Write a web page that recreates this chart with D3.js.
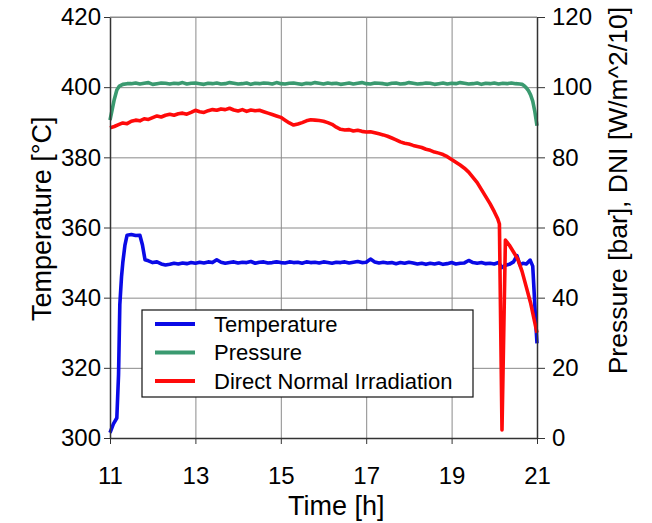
<!DOCTYPE html>
<html>
<head>
<meta charset="utf-8">
<script src="https://cdn.jsdelivr.net/npm/d3@7"></script>
<style>
  body { margin: 0; background: #fff; }
  svg { font-family: "Liberation Sans", Arial, sans-serif; }
  .tick text { fill: #000; }
</style>
</head>
<body>
<svg id="chart" width="652" height="523"></svg>
<script>
// ---- data ----
var timeTicks = [11, 13, 15, 17, 19, 21];
var tempTicks = [300, 320, 340, 360, 380, 400, 420];
var rightTicks = [0, 20, 40, 60, 80, 100, 120];

var tempTime = [11.0, 11.08, 11.16, 11.2, 11.23, 11.27, 11.3, 11.35, 11.4, 11.5, 11.6, 11.7, 11.76, 11.82, 11.9,
  12.0, 12.1, 12.2, 12.3, 12.4, 12.5, 12.6, 12.7, 12.8, 12.9,
  13.0, 13.1, 13.2, 13.3, 13.4, 13.5, 13.6, 13.7, 13.8, 13.9,
  14.0, 14.1, 14.2, 14.3, 14.4, 14.5, 14.6, 14.7, 14.8, 14.9,
  15.0, 15.1, 15.2, 15.3, 15.4, 15.5, 15.6, 15.7, 15.8, 15.9,
  16.0, 16.1, 16.2, 16.3, 16.4, 16.5, 16.6, 16.7, 16.8, 16.9,
  17.0, 17.1, 17.2, 17.3, 17.4, 17.5, 17.6, 17.7, 17.8, 17.9,
  18.0, 18.1, 18.2, 18.3, 18.4, 18.5, 18.6, 18.7, 18.8, 18.9,
  19.0, 19.1, 19.2, 19.3, 19.4, 19.5, 19.6, 19.7, 19.8, 19.9,
  20.0, 20.1, 20.18, 20.25, 20.35, 20.45, 20.53, 20.6, 20.67, 20.75, 20.84, 20.9, 20.94, 20.97, 21.0];
var tempValue = [301.5, 304, 305.7, 318, 338, 346, 350, 355, 357.8, 358, 357.7, 357.8, 355, 350.8, 350.5,
  350.0, 350.2, 349.6, 349.3, 349.5, 349.8, 349.6, 349.9, 349.7, 350.0,
  349.8, 350.1, 349.9, 350.2, 350.0, 350.8, 350.1, 349.8, 350.0, 350.2,
  349.9, 350.1, 350.0, 350.3, 349.8, 350.1, 350.2, 349.9, 350.0, 350.2,
  350.0, 349.9, 350.2, 350.0, 350.1, 349.8, 350.2, 350.0, 350.1, 349.9,
  350.2, 350.0, 349.8, 350.1, 350.0, 350.2, 349.9, 350.1, 350.3, 350.0,
  350.1, 351.0, 350.2, 349.9, 350.1, 349.9, 350.0, 349.7, 350.0, 349.8,
  350.1, 349.9, 349.6, 349.8, 349.5, 349.8, 349.6, 349.9, 349.5, 349.7,
  350.0, 349.6, 349.8, 349.9, 350.6, 350.0, 349.8, 350.0, 349.7, 349.8,
  349.6, 350.0, 348.6, 349.2, 349.5, 350.2, 352.0, 349.3, 349.8, 349.6, 350.7, 349.0, 340, 333, 327];

var presTime = [11.0, 11.05, 11.1, 11.16, 11.22, 11.3, 11.4,
  11.5, 11.6, 11.7, 11.8, 11.9,
  12.0, 12.1, 12.2, 12.3, 12.4, 12.5, 12.6, 12.7, 12.8, 12.9,
  13.0, 13.1, 13.2, 13.3, 13.4, 13.5, 13.6, 13.7, 13.8, 13.9,
  14.0, 14.1, 14.2, 14.3, 14.4, 14.5, 14.6, 14.7, 14.8, 14.9,
  15.0, 15.1, 15.2, 15.3, 15.4, 15.5, 15.6, 15.7, 15.8, 15.9,
  16.0, 16.1, 16.2, 16.3, 16.4, 16.5, 16.6, 16.7, 16.8, 16.9,
  17.0, 17.1, 17.2, 17.3, 17.4, 17.5, 17.6, 17.7, 17.8, 17.9,
  18.0, 18.1, 18.2, 18.3, 18.4, 18.5, 18.6, 18.7, 18.8, 18.9,
  19.0, 19.1, 19.2, 19.3, 19.4, 19.5, 19.6, 19.7, 19.8, 19.9,
  20.0, 20.1, 20.2, 20.3, 20.4, 20.5, 20.6,
  20.65, 20.7, 20.75, 20.8, 20.85, 20.9, 20.95, 21.0];
var presValue = [90.6, 93.5, 96.5, 99.2, 100.3, 100.8, 101.0,
  101.0, 101.2, 100.9, 101.1, 101.3,
  100.8, 101.0, 101.2, 101.1, 100.9, 101.1, 101.0, 101.3, 100.9, 101.1,
  101.2, 101.0, 100.8, 101.1, 101.0, 101.2, 100.9, 101.0, 101.3, 101.1,
  100.9, 101.0, 101.2, 100.8, 101.1, 101.0, 101.2, 101.1, 100.9, 101.3,
  101.0, 100.9, 101.1, 101.2, 101.0, 100.8, 101.1, 101.0, 101.3, 101.1,
  100.9, 101.2, 101.0, 101.1, 100.8, 101.0, 101.2, 100.9, 101.1, 101.3,
  101.0, 100.9, 101.2, 101.1, 101.0, 100.8, 101.1, 101.2, 100.9, 101.0,
  101.3, 101.1, 100.9, 101.0, 101.2, 101.1, 100.8, 101.0, 101.2, 100.9,
  101.1, 101.0, 101.3, 101.1, 100.9, 101.0, 101.2, 100.8, 101.1, 101.0,
  101.2, 100.9, 101.1, 101.0, 101.2, 101.0, 100.9,
  100.8, 100.4, 99.8, 99.0, 97.8, 96.0, 93.0, 89.0];

var dniTime = [11.0, 11.1, 11.2, 11.3, 11.4, 11.5, 11.6, 11.7, 11.8, 11.9,
  12.0, 12.1, 12.2, 12.3, 12.4, 12.5, 12.6, 12.7, 12.8, 12.9,
  13.0, 13.1, 13.2, 13.3, 13.4, 13.5, 13.6, 13.7, 13.8, 13.9,
  14.0, 14.1, 14.2, 14.3, 14.4, 14.5, 14.6, 14.7, 14.8, 14.9,
  15.0, 15.1, 15.2, 15.3, 15.4, 15.5, 15.6, 15.7, 15.8, 15.9,
  16.0, 16.1, 16.2, 16.3, 16.4, 16.5, 16.6, 16.7, 16.8, 16.9,
  17.0, 17.1, 17.2, 17.3, 17.4, 17.5, 17.6, 17.7, 17.8, 17.9,
  18.0, 18.1, 18.2, 18.3, 18.4, 18.5, 18.6, 18.7, 18.8, 18.9,
  19.0, 19.1, 19.2, 19.3, 19.4, 19.5, 19.6, 19.7, 19.8, 19.9,
  20.0, 20.08, 20.12, 20.18, 20.26, 20.35, 20.45, 20.55, 20.65, 20.75, 20.85, 20.92, 21.0];
var dniValue = [88.4, 88.8, 89.3, 89.8, 89.6, 90.3, 90.6, 90.4, 91.0, 90.8,
  91.3, 91.8, 91.5, 92.0, 92.3, 92.0, 92.4, 92.6, 92.3, 92.8,
  93.4, 93.0, 92.8, 93.3, 93.6, 93.4, 93.8, 93.6, 94.0, 93.5,
  93.2, 93.6, 93.1, 93.5, 93.3, 93.4, 93.0, 92.6, 92.2, 91.8,
  91.4, 90.6, 89.8, 89.2, 89.5, 89.9, 90.4, 90.7, 90.6, 90.5,
  90.3, 89.9, 89.4, 88.6, 88.0, 87.8, 87.9, 87.5, 87.7, 87.4,
  87.2, 87.3, 87.0, 86.7, 86.4, 86.0, 85.5, 85.0, 84.4, 84.0,
  83.8, 83.4, 83.1, 82.8, 82.3, 82.0, 81.5, 81.2, 80.8, 80.2,
  79.4, 78.6, 77.8, 76.9, 75.8, 74.3, 72.8, 70.8, 68.8, 66.8,
  64.5, 62.5, 61.0, 2.3, 56.4, 55.0, 53.0, 51.0, 47.5, 43.0, 38.5, 34.5, 30.0];

var seriesNames = ["Temperature", "Pressure", "Direct Normal Irradiation"];
var seriesColors = ["#0a0ae6", "#3a9a70", "#ff0a0a"];

// ---- layout ----
var margin = {top: 17, right: 115, bottom: 85, left: 110},
    width = 652 - margin.left - margin.right,
    height = 523 - margin.top - margin.bottom;

var svg = d3.select("#chart")
  .append("g")
  .attr("transform", "translate(" + margin.left + "," + margin.top + ")");

var x = d3.scaleLinear().domain([11, 21]).range([0, width]);
var yTemp = d3.scaleLinear().domain([300, 420]).range([height, 0]);
var yRight = d3.scaleLinear().domain([0, 120]).range([height, 0]);

// grid
svg.append("g")
  .attr("class", "grid")
  .attr("transform", "translate(0," + height + ")")
  .call(d3.axisBottom(x).tickValues(timeTicks.slice(1, -1)).tickSize(-height).tickFormat(""))
  .call(function(g) { g.select(".domain").remove(); })
  .selectAll("line").attr("stroke", "#8a8a8a");

svg.append("g")
  .attr("class", "grid")
  .call(d3.axisLeft(yTemp).tickValues(tempTicks.slice(1)).tickSize(-width).tickFormat(""))
  .call(function(g) { g.select(".domain").remove(); })
  .selectAll("line").attr("stroke", "#8a8a8a");

// series lines
var line = d3.line().curve(d3.curveLinear);
var tempPts = d3.zip(tempTime, tempValue).map(function(d) { return [x(d[0]), yTemp(d[1])]; });
var presPts = d3.zip(presTime, presValue).map(function(d) { return [x(d[0]), yRight(d[1])]; });
var dniPts = d3.zip(dniTime, dniValue).map(function(d) { return [x(d[0]), yRight(d[1])]; });

[tempPts, presPts, dniPts].forEach(function(pts, i) {
  svg.append("path")
    .attr("d", line(pts))
    .attr("fill", "none")
    .attr("stroke", seriesColors[i])
    .attr("stroke-width", 3.6)
    .attr("stroke-linejoin", "round");
});

// axes
var tickFont = 24;
svg.append("g")
  .attr("transform", "translate(0," + height + ")")
  .call(d3.axisBottom(x).tickValues(timeTicks).tickSize(6).tickSizeOuter(0).tickPadding(23))
  .call(function(g) {
    g.select(".domain").attr("stroke", "#333").attr("stroke-width", 1.5);
    g.selectAll("line").attr("stroke", "#333");
    g.selectAll("text").attr("font-size", tickFont).attr("font-family", null);
  });

svg.append("g")
  .call(d3.axisLeft(yTemp).tickValues(tempTicks).tickSize(6).tickSizeOuter(0).tickPadding(3))
  .call(function(g) {
    g.select(".domain").attr("stroke", "#333").attr("stroke-width", 1.5);
    g.selectAll("line").attr("stroke", "#333");
    g.selectAll("text").attr("font-size", tickFont).attr("font-family", null);
  });

svg.append("g")
  .attr("transform", "translate(" + width + ",0)")
  .call(d3.axisRight(yRight).tickValues(rightTicks).tickSize(8).tickSizeOuter(0).tickPadding(7))
  .call(function(g) {
    g.select(".domain").attr("stroke", "#333").attr("stroke-width", 1.5);
    g.selectAll("line").attr("stroke", "#333");
    g.selectAll("text").attr("font-size", tickFont).attr("font-family", null);
  });

// top frame
svg.append("line")
  .attr("x1", 0).attr("x2", width)
  .attr("y1", 0).attr("y2", 0)
  .attr("stroke", "#8a8a8a");

// titles
svg.append("text")
  .attr("transform", "translate(" + (-59) + "," + (yTemp(362.5)) + ") rotate(-90)")
  .attr("text-anchor", "middle")
  .attr("font-size", 27)
  .text("Temperature [°C]");

svg.append("text")
  .attr("transform", "translate(" + (width + 90) + "," + (yRight(70.5)) + ") rotate(-90)")
  .attr("text-anchor", "middle")
  .attr("font-size", 26.5)
  .text("Pressure [bar], DNI [W/m^2/10]");

svg.append("text")
  .attr("x", x(16.3))
  .attr("y", height + 77)
  .attr("text-anchor", "middle")
  .attr("font-size", 27)
  .text("Time [h]");

// legend
var legend = svg.append("g")
  .attr("transform", "translate(" + (142 - margin.left) + "," + (310 - margin.top) + ")");

legend.append("rect")
  .attr("width", 331)
  .attr("height", 87)
  .attr("fill", "#fff")
  .attr("stroke", "#111")
  .attr("stroke-width", 1.2);

var legendRow = legend.selectAll(".legend-row")
  .data(seriesNames)
  .enter().append("g")
  .attr("class", "legend-row")
  .attr("transform", function(d, i) { return "translate(0," + (14 + i * 28.5) + ")"; });

legendRow.append("line")
  .attr("x1", 13).attr("x2", 53)
  .attr("stroke", function(d, i) { return seriesColors[i]; })
  .attr("stroke-width", 4);

legendRow.append("text")
  .attr("x", 72)
  .attr("dy", "0.36em")
  .attr("font-size", 22)
  .text(function(d) { return d; });
</script>
</body>
</html>
